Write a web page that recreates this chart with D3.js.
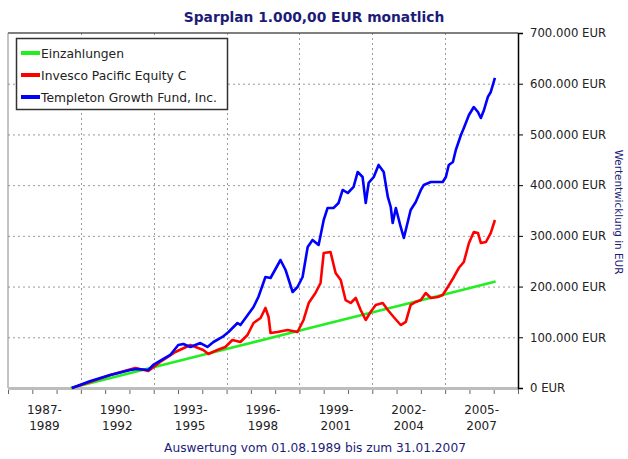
<!DOCTYPE html>
<html>
<head>
<meta charset="utf-8">
<script src="https://cdn.jsdelivr.net/npm/d3@7"></script>
<style>
  body { margin: 0; background: #fff; }
  text { font-family: "DejaVu Sans", sans-serif; }
</style>
</head>
<body>
<script>
// Values in EUR, dates as decimal years
const seriesNames = ['Einzahlungen', 'Invesco Pacific Equity C', 'Templeton Growth Fund, Inc.']
const seriesColors = ['#22ee22', '#ff0000', '#0000ff']

const einzahlungen = [
  [1989.58, 0], [1992.0, 29000], [1995.0, 65000], [2000.0, 125000],
  [2005.0, 185000], [2007.08, 210000]
]

const invesco = [
  [1989.63, 0], [1990.38, 11800], [1991.21, 25600], [1992.24, 39400], [1992.78, 33500],
  [1993.27, 51300], [1993.89, 71000], [1994.51, 84800], [1995.04, 74900], [1995.25, 67000],
  [1995.62, 74900], [1995.95, 80900], [1996.24, 94700], [1996.57, 90700], [1996.86, 104500],
  [1997.11, 128200], [1997.40, 138000], [1997.60, 157800], [1997.73, 140000], [1997.81, 108500],
  [1998.10, 110400], [1998.51, 114400], [1998.92, 110400], [1999.17, 134100], [1999.38, 167600],
  [1999.66, 187300], [1999.87, 207100], [2000.00, 266200], [2000.28, 268200], [2000.49, 226800],
  [2000.70, 213000], [2000.90, 173500], [2001.11, 167600], [2001.32, 177500], [2001.52, 153800],
  [2001.73, 134100], [2001.93, 149900], [2002.14, 163700], [2002.43, 167600], [2002.64, 153800],
  [2002.88, 140000], [2003.17, 124200], [2003.38, 130200], [2003.58, 163700], [2003.79, 169600],
  [2004.00, 173500], [2004.20, 187300], [2004.41, 177500], [2004.70, 179500], [2004.90, 183400],
  [2005.11, 199200], [2005.36, 218900], [2005.56, 236600], [2005.77, 248500], [2005.98, 285900],
  [2006.18, 307600], [2006.35, 305700], [2006.47, 285900], [2006.68, 287900], [2006.88, 305700],
  [2007.05, 331300]
]

const templeton = [
  [1989.63, 0], [1990.40, 13800], [1991.21, 25600], [1992.03, 35500], [1992.32, 37500],
  [1992.78, 35500], [1992.98, 45400], [1993.68, 65100], [1994.01, 84800], [1994.22, 86800],
  [1994.51, 80900], [1994.92, 88700], [1995.21, 80900], [1995.46, 90700], [1995.83, 100600],
  [1996.08, 110400], [1996.45, 128200], [1996.57, 124200], [1996.78, 138000], [1997.11, 159700],
  [1997.31, 179500], [1997.60, 218900], [1997.81, 216900], [1998.22, 252400], [1998.43, 232700],
  [1998.72, 189300], [1998.92, 199200], [1999.13, 218900], [1999.34, 278100], [1999.54, 291900],
  [1999.79, 282000], [2000.00, 331300], [2000.16, 355000], [2000.41, 355000], [2000.61, 364800],
  [2000.78, 390500], [2000.99, 384500], [2001.23, 396400], [2001.40, 426000], [2001.60, 416100],
  [2001.73, 364800], [2001.85, 404300], [2002.06, 416100], [2002.26, 439800], [2002.47, 426000],
  [2002.64, 376700], [2002.76, 356900], [2002.84, 325400], [2002.97, 355000], [2003.17, 317500],
  [2003.30, 295800], [2003.58, 351000], [2003.79, 366800], [2004.00, 390500], [2004.12, 400300],
  [2004.41, 406200], [2004.70, 406200], [2004.90, 406200], [2005.03, 416100], [2005.15, 439800],
  [2005.32, 445700], [2005.44, 469300], [2005.65, 498900], [2005.77, 512700], [2005.98, 538400],
  [2006.18, 554100], [2006.35, 544300], [2006.47, 532400], [2006.60, 548200], [2006.76, 573900],
  [2006.88, 583700], [2007.05, 611300]
]

const yTicks = [0, 100000, 200000, 300000, 400000, 500000, 600000, 700000]
const xBands = [['1987-', '1989'], ['1990-', '1992'], ['1993-', '1995'], ['1996-', '1998'],
                ['1999-', '2001'], ['2002-', '2004'], ['2005-', '2007']]
const bandStarts = [1987, 1990, 1993, 1996, 1999, 2002, 2005]

const titleText = 'Sparplan 1.000,00 EUR monatlich'
const xTitle = 'Auswertung vom 01.08.1989 bis zum 31.01.2007'
const yTitle = 'Wertentwicklung in EUR'

const W = 628, H = 459
const plot = { left: 8, right: 518, top: 33, bottom: 388 }

const svg = d3.select('body').append('svg')
  .attr('width', W).attr('height', H)

const x = d3.scaleLinear().domain([1987, 2008]).range([plot.left, plot.right])
const y = d3.scaleLinear().domain([0, 700000]).range([plot.bottom, plot.top])

const fmt = v => d3.format(',')(v).replace(/,/g, '.') + ' EUR'

// title
svg.append('text')
  .attr('x', 314).attr('y', 22)
  .attr('text-anchor', 'middle')
  .attr('font-size', 13.8).attr('font-weight', 'bold')
  .attr('fill', '#1c1c78')
  .text(titleText)

// grid
const grid = svg.append('g').attr('stroke', '#9a9a9a').attr('stroke-dasharray', '2,3')
grid.selectAll('.h').data(yTicks.filter(d => d > 0 && d < 700000)).join('line')
  .attr('x1', plot.left).attr('x2', plot.right)
  .attr('y1', d => y(d) + 0.5).attr('y2', d => y(d) + 0.5)
grid.selectAll('.v').data(bandStarts.slice(1)).join('line')
  .attr('x1', d => Math.round(x(d)) + 0.5).attr('x2', d => Math.round(x(d)) + 0.5)
  .attr('y1', plot.top).attr('y2', plot.bottom)

// frame top / left
svg.append('line').attr('x1', plot.left).attr('x2', plot.right)
  .attr('y1', plot.top).attr('y2', plot.top)
  .attr('stroke', '#555').attr('stroke-width', 1.5)
svg.append('line').attr('x1', plot.left).attr('x2', plot.left)
  .attr('y1', plot.top).attr('y2', plot.bottom)
  .attr('stroke', '#888').attr('stroke-width', 1)

// bottom axis: gray band with yearly ticks
const xAxis = d3.axisBottom(x)
  .tickValues(d3.range(1987, 2009))
  .tickSize(5).tickFormat('')
svg.append('g').attr('transform', `translate(0,${plot.bottom + 1})`)
  .call(xAxis)
  .call(g => g.select('.domain').remove())
  .call(g => g.selectAll('line').attr('stroke', '#666'))
svg.append('line').attr('x1', plot.left).attr('x2', plot.right)
  .attr('y1', plot.bottom + 0.5).attr('y2', plot.bottom + 0.5)
  .attr('stroke', '#bdbdbd').attr('stroke-width', 3)

// band labels
const bandLab = svg.append('g').attr('font-size', 12).attr('fill', '#222')
  .attr('text-anchor', 'middle')
xBands.forEach((lab, i) => {
  const cx = (x(bandStarts[i]) + x(bandStarts[i] + 3)) / 2
  bandLab.append('text').attr('x', cx).attr('y', 414).text(lab[0])
  bandLab.append('text').attr('x', cx).attr('y', 430).text(lab[1])
})

// right axis
const yAxis = d3.axisRight(y).tickValues(yTicks).tickSize(5).tickPadding(7).tickFormat(fmt)
svg.append('g').attr('transform', `translate(${plot.right},0)`)
  .call(yAxis)
  .call(g => g.select('.domain').attr('stroke', '#000').attr('stroke-width', 1.5))
  .call(g => g.selectAll('line').attr('stroke', '#000'))
  .call(g => g.selectAll('text').attr('font-family', '"DejaVu Sans", sans-serif')
    .attr('font-size', 11.7).attr('fill', '#222'))

// axis titles
svg.append('text')
  .attr('transform', 'translate(615,212) rotate(90)')
  .attr('text-anchor', 'middle')
  .attr('font-size', 10.4).attr('fill', '#1c1c78')
  .text(yTitle)
svg.append('text')
  .attr('x', 315).attr('y', 452)
  .attr('text-anchor', 'middle')
  .attr('font-size', 12.2).attr('fill', '#1c1c78')
  .text(xTitle)

// lines
const line = d3.line().x(d => x(d[0])).y(d => y(d[1]))
const series = [einzahlungen, invesco, templeton]
svg.append('g')
  .selectAll('path').data(series).join('path')
  .attr('d', line)
  .attr('fill', 'none')
  .attr('stroke', (d, i) => seriesColors[i])
  .attr('stroke-width', 2.6)
  .attr('stroke-linejoin', 'round')

// legend
const lg = svg.append('g')
lg.append('rect').attr('x', 16.5).attr('y', 38.5).attr('width', 211).attr('height', 71)
  .attr('fill', '#fff').attr('stroke', '#333').attr('stroke-width', 1.5)
seriesNames.forEach((name, i) => {
  const ry = 53 + i * 22
  lg.append('line').attr('x1', 21).attr('x2', 40).attr('y1', ry).attr('y2', ry)
    .attr('stroke', seriesColors[i]).attr('stroke-width', 4)
  lg.append('text').attr('x', 41).attr('y', ry + 4.5)
    .attr('font-size', 12.3).attr('fill', '#222').text(name)
})
</script>
</body>
</html>
